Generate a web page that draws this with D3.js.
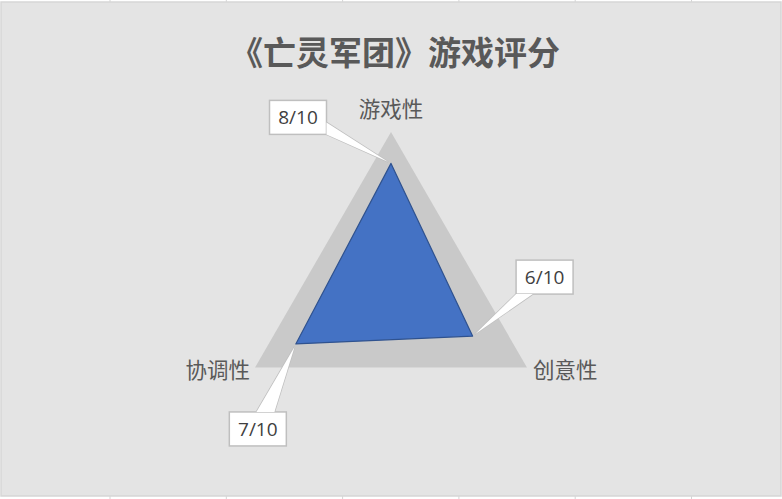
<!DOCTYPE html>
<html>
<head>
<meta charset="utf-8">
<script src="https://cdn.jsdelivr.net/npm/d3@7"></script>
<style>
  html, body { margin: 0; padding: 0; background: #fff; }
  svg { display: block; }
</style>
</head>
<body>
<script>
// chart data
const title = "《亡灵军团》游戏评分";
const axes = ["游戏性", "创意性", "协调性"];
const scores = [8, 6, 7];
const maxScores = [10, 10, 10];
const maxValue = 10;
const labels = scores.map((d) => `${d}/${maxValue}`);

const width = 782;
const height = 499;
const cx = 391;
const cy = 289;
const R = 157;

// where each axis name / data label sits relative to its point (layout only)
const axisLabelOffset = [
  { dx: 0, dy: -15, anchor: "middle" },
  { dx: 6, dy: 10, anchor: "start" },
  { dx: -5, dy: 10, anchor: "end" },
];
const dataLabelOffset = [
  { dx: -93, dy: -46 },
  { dx: 72, dy: -59 },
  { dx: -38, dy: 85 },
];

const r = d3.scaleLinear().domain([0, maxValue]).range([0, R]);
const angle = d3
  .scalePoint()
  .domain(d3.range(axes.length + 1))
  .range([0, 2 * Math.PI]);

const point = (v, i) => {
  const a = angle(i);
  return [cx + r(v) * Math.sin(a), cy - r(v) * Math.cos(a)];
};

const radarLine = d3
  .lineRadial()
  .angle((d, i) => angle(i))
  .radius((d) => r(d))
  .curve(d3.curveLinearClosed);

const svg = d3
  .select("body")
  .append("svg")
  .attr("width", width)
  .attr("height", height);

// spreadsheet grid peeking out above and below the chart box
svg
  .append("g")
  .attr("stroke", "#d4d4d4")
  .selectAll("line")
  .data(d3.range(6).map((i) => 110 + i * 116.3))
  .join("line")
  .attr("x1", (d) => d)
  .attr("x2", (d) => d)
  .attr("y1", 0)
  .attr("y2", height);

svg
  .append("rect")
  .attr("x", 1)
  .attr("y", 2)
  .attr("width", 780)
  .attr("height", 494)
  .attr("fill", "#e4e4e4")
  .attr("stroke", "#d6d6d6")
  .attr("stroke-width", 1.5);

svg
  .append("text")
  .attr("x", cx + 4)
  .attr("y", 65)
  .attr("text-anchor", "middle")
  .attr("font-family", "'Noto Sans CJK SC', sans-serif")
  .attr("font-weight", "bold")
  .attr("font-size", 33)
  .attr("fill", "#595959")
  .text(title);

const plot = svg.append("g").attr("transform", `translate(${cx},${cy})`);

plot
  .append("path")
  .attr("d", radarLine(maxScores))
  .attr("fill", "#c9c9c9");

plot
  .append("path")
  .attr("d", radarLine(scores))
  .attr("fill", "#4472c4")
  .attr("stroke", "#2f528f")
  .attr("stroke-width", 1.2)
  .attr("stroke-linejoin", "round");

// axis names
svg
  .append("g")
  .attr("font-family", "'Noto Sans CJK SC', sans-serif")
  .attr("font-size", 21.5)
  .attr("fill", "#595959")
  .selectAll("text")
  .data(axes)
  .join("text")
  .each(function (d, i) {
    const [x, y] = point(maxScores[i], i);
    const o = axisLabelOffset[i];
    d3.select(this)
      .attr("x", x + o.dx)
      .attr("y", y + o.dy)
      .attr("text-anchor", o.anchor);
  })
  .text((d) => d);

// data label callouts
const boxW = 57;
const boxH = 34;
const callouts = svg
  .append("g")
  .selectAll("g")
  .data(labels)
  .join("g");

callouts.each(function (d, i) {
  const g = d3.select(this);
  const [px, py] = point(scores[i], i);
  const bx = px + dataLabelOffset[i].dx;
  const by = py + dataLabelOffset[i].dy;
  const x0 = bx - boxW / 2;
  const y0 = by - boxH / 2;

  // where the line from box centre to the point leaves the box
  const vx = px - bx;
  const vy = py - by;
  const tx = Math.abs(boxW / 2 / (vx || 1e-9));
  const ty = Math.abs(boxH / 2 / (vy || 1e-9));
  const t = Math.min(tx, ty);
  const ex = bx + vx * t;
  const ey = by + vy * t;
  const half = 9;
  let b1, b2;
  if (tx < ty) {
    b1 = [ex, Math.max(y0, Math.min(y0 + boxH, ey - half))];
    b2 = [ex, Math.max(y0, Math.min(y0 + boxH, ey + half))];
  } else {
    b1 = [Math.max(x0, Math.min(x0 + boxW, ex - half)), ey];
    b2 = [Math.max(x0, Math.min(x0 + boxW, ex + half)), ey];
  }
  const len = Math.hypot(vx, vy);
  const tip = [px - (vx / len) * 3, py - (vy / len) * 3];
  const wedge = d3.line()([b1, tip, b2]);

  g.append("path")
    .attr("d", wedge)
    .attr("fill", "#fff")
    .attr("stroke", "#bfbfbf")
    .attr("stroke-width", 1.5);

  g.append("rect")
    .attr("x", x0)
    .attr("y", y0)
    .attr("width", boxW)
    .attr("height", boxH)
    .attr("fill", "#fff")
    .attr("stroke", "#bfbfbf")
    .attr("stroke-width", 1.5);

  // hide the box border where the wedge joins
  g.append("path").attr("d", wedge).attr("fill", "#fff");

  g.append("text")
    .attr("x", bx)
    .attr("y", by + 7)
    .attr("text-anchor", "middle")
    .attr("font-family", "'Open Sans', 'Noto Sans', sans-serif")
    .attr("font-size", 19)
    .attr("fill", "#404040")
    .text(d);
});
</script>
</body>
</html>
